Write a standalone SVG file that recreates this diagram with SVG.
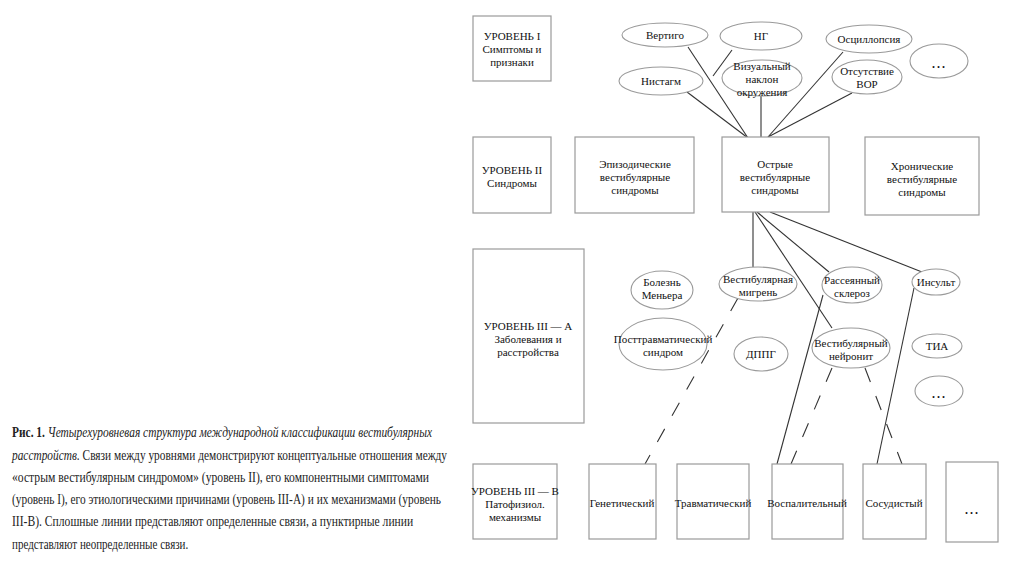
<svg xmlns="http://www.w3.org/2000/svg" width="1024" height="574" viewBox="0 0 1024 574">
<style>
  .bx{fill:#fff;stroke:#9a9a9a;stroke-width:1.2}
  .el{fill:#fff;stroke:#9a9a9a;stroke-width:1.1}
  .ln{stroke:#333;stroke-width:1.1;fill:none}
  .dl{stroke:#333;stroke-width:1.1;fill:none;stroke-dasharray:15 15}
  .t{font-family:"Liberation Serif","Times New Roman",serif;font-size:11px;fill:#111;text-anchor:middle}
  .dots{font-family:"Liberation Serif","Times New Roman",serif;font-size:16px;fill:#111;text-anchor:middle;letter-spacing:1px}
  .cap{font-family:"Liberation Serif","Times New Roman",serif;font-size:15px;fill:#222}
</style>
<rect width="1024" height="574" fill="#fff"/>

<g id="connectors">
  <line class="ln" x1="688" y1="47" x2="748" y2="138"/>
  <line class="ln" x1="687" y1="92" x2="748" y2="138"/>
  <line class="ln" x1="732" y1="50" x2="713" y2="76"/>
  <line class="ln" x1="761" y1="96" x2="761" y2="137"/>
  <line class="ln" x1="843" y1="52" x2="768" y2="137"/>
  <line class="ln" x1="852" y1="93" x2="768" y2="137"/>
  <line class="ln" x1="753" y1="212" x2="753" y2="267"/>
  <line class="ln" x1="755" y1="212" x2="832" y2="328"/>
  <line class="ln" x1="757" y1="212" x2="829" y2="272"/>
  <line class="ln" x1="770" y1="212" x2="922" y2="272"/>
  <line class="dl" x1="738" y1="298" x2="645" y2="464"/>
  <line class="ln" x1="823" y1="295" x2="777" y2="464"/>
  <line class="dl" x1="832" y1="368" x2="791" y2="464"/>
  <line class="ln" x1="914" y1="288" x2="877" y2="464"/>
  <line class="dl" x1="865" y1="368" x2="902" y2="464"/>
</g>

<g id="level1">
  <rect class="bx" x="473" y="16" width="78" height="65"/>
  <text class="t"><tspan x="512" y="40">УРОВЕНЬ I</tspan><tspan x="512" y="53">Симптомы и</tspan><tspan x="512" y="66">признаки</tspan></text>
</g>
<g id="vertigo"><ellipse class="el" cx="665" cy="35" rx="43" ry="12"/><text class="t" x="665" y="39">Вертиго</text></g>
<g id="ng"><ellipse class="el" cx="761" cy="36" rx="41" ry="14"/><text class="t" x="761" y="40">НГ</text></g>
<g id="oscillopsia"><ellipse class="el" cx="869" cy="39" rx="43" ry="14"/><text class="t" x="869" y="43">Осциллопсия</text></g>
<g id="dots1"><ellipse class="el" cx="939" cy="61" rx="29" ry="17"/><text class="dots" x="939" y="68">...</text></g>
<g id="vor"><ellipse class="el" cx="867" cy="77" rx="35" ry="17"/><text class="t"><tspan x="867" y="75">Отсутствие</tspan><tspan x="867" y="88">ВОР</tspan></text></g>
<g id="visual"><ellipse class="el" cx="762" cy="78" rx="40" ry="18"/><text class="t"><tspan x="762" y="70">Визуальный</tspan><tspan x="762" y="83">наклон</tspan><tspan x="762" y="96">окружения</tspan></text></g>
<g id="nystagmus"><ellipse class="el" cx="661" cy="81" rx="42" ry="14"/><text class="t" x="661" y="85">Нистагм</text></g>

<g id="level2">
  <rect class="bx" x="473" y="137" width="78" height="76"/>
  <text class="t"><tspan x="512" y="174">УРОВЕНЬ II</tspan><tspan x="512" y="187">Синдромы</tspan></text>
</g>
<g id="episodic">
  <rect class="bx" x="575" y="137" width="119" height="76"/>
  <text class="t"><tspan x="635" y="168">Эпизодические</tspan><tspan x="635" y="181">вестибулярные</tspan><tspan x="635" y="194">синдромы</tspan></text>
</g>
<g id="acute">
  <rect class="bx" x="722" y="137" width="107" height="75"/>
  <text class="t"><tspan x="775" y="168">Острые</tspan><tspan x="775" y="181">вестибулярные</tspan><tspan x="775" y="194">синдромы</tspan></text>
</g>
<g id="chronic">
  <rect class="bx" x="865" y="137" width="114" height="78"/>
  <text class="t"><tspan x="922" y="170">Хронические</tspan><tspan x="922" y="183">вестибулярные</tspan><tspan x="922" y="196">синдромы</tspan></text>
</g>

<g id="level3a">
  <rect class="bx" x="473" y="249" width="111" height="174"/>
  <text class="t"><tspan x="528" y="330">УРОВЕНЬ III — А</tspan><tspan x="528" y="343">Заболевания и</tspan><tspan x="528" y="356">расстройства</tspan></text>
</g>
<g id="meniere"><ellipse class="el" cx="662" cy="290" rx="31" ry="19"/><text class="t"><tspan x="662" y="286">Болезнь</tspan><tspan x="662" y="299">Меньера</tspan></text></g>
<g id="migraine"><ellipse class="el" cx="758" cy="284" rx="39" ry="17"/><text class="t"><tspan x="758" y="283">Вестибулярная</tspan><tspan x="758" y="296">мигрень</tspan></text></g>
<g id="posttraumatic"><ellipse class="el" cx="663" cy="344" rx="44" ry="26"/><text class="t"><tspan x="663" y="343">Посттравматический</tspan><tspan x="663" y="356">синдром</tspan></text></g>
<g id="bppv"><ellipse class="el" cx="761" cy="354" rx="27" ry="17"/><text class="t" x="761" y="358">ДППГ</text></g>
<g id="ms"><ellipse class="el" cx="852" cy="285" rx="30" ry="18"/><text class="t"><tspan x="852" y="284">Рассеянный</tspan><tspan x="852" y="297">склероз</tspan></text></g>
<g id="stroke"><ellipse class="el" cx="936" cy="282" rx="24" ry="13"/><text class="t" x="936" y="286">Инсульт</text></g>
<g id="neuritis"><ellipse class="el" cx="851" cy="348" rx="39" ry="20"/><text class="t"><tspan x="851" y="347">Вестибулярный</tspan><tspan x="851" y="360">нейронит</tspan></text></g>
<g id="tia"><ellipse class="el" cx="937" cy="346" rx="25" ry="12"/><text class="t" x="937" y="350">ТИА</text></g>
<g id="dots2"><ellipse class="el" cx="939" cy="391" rx="24" ry="15"/><text class="dots" x="939" y="398">...</text></g>

<g id="level3b">
  <rect class="bx" x="473" y="464" width="84" height="75"/>
  <text class="t"><tspan x="515" y="495">УРОВЕНЬ III — B</tspan><tspan x="515" y="508">Патофизиол.</tspan><tspan x="515" y="521">механизмы</tspan></text>
</g>
<g id="genetic"><rect class="bx" x="589" y="464" width="67" height="75"/><text class="t" x="622" y="507">Генетический</text></g>
<g id="traumatic"><rect class="bx" x="677" y="464" width="72" height="75"/><text class="t" x="713" y="507">Травматический</text></g>
<g id="inflammatory"><rect class="bx" x="772" y="464" width="71" height="75"/><text class="t" x="807" y="507">Воспалительный</text></g>
<g id="vascular"><rect class="bx" x="863" y="464" width="63" height="75"/><text class="t" x="894" y="507">Сосудистый</text></g>
<g id="dots3"><rect class="bx" x="946" y="462" width="52" height="80"/><text class="dots" x="972" y="514">...</text></g>

<g id="caption" transform="translate(12,0) scale(0.75,1)">
  <text class="cap" x="0" y="437" textLength="560" lengthAdjust="spacingAndGlyphs"><tspan font-weight="bold">Рис. 1.</tspan> <tspan font-style="italic">Четырехуровневая структура международной классификации вестибулярных</tspan></text>
  <text class="cap" x="0" y="460" textLength="580" lengthAdjust="spacingAndGlyphs"><tspan font-style="italic">расстройств.</tspan> Связи между уровнями демонстрируют концептуальные отношения между</text>
  <text class="cap" x="0" y="482" textLength="556" lengthAdjust="spacingAndGlyphs">«острым вестибулярным синдромом» (уровень II), его компонентными симптомами</text>
  <text class="cap" x="0" y="504" textLength="572" lengthAdjust="spacingAndGlyphs">(уровень I), его этиологическими причинами (уровень III-А) и их механизмами (уровень</text>
  <text class="cap" x="0" y="526" textLength="535" lengthAdjust="spacingAndGlyphs">III-B). Сплошные линии представляют определенные связи, а пунктирные линии</text>
  <text class="cap" x="0" y="549" textLength="235" lengthAdjust="spacingAndGlyphs">представляют неопределенные связи.</text>
</g>
</svg>
